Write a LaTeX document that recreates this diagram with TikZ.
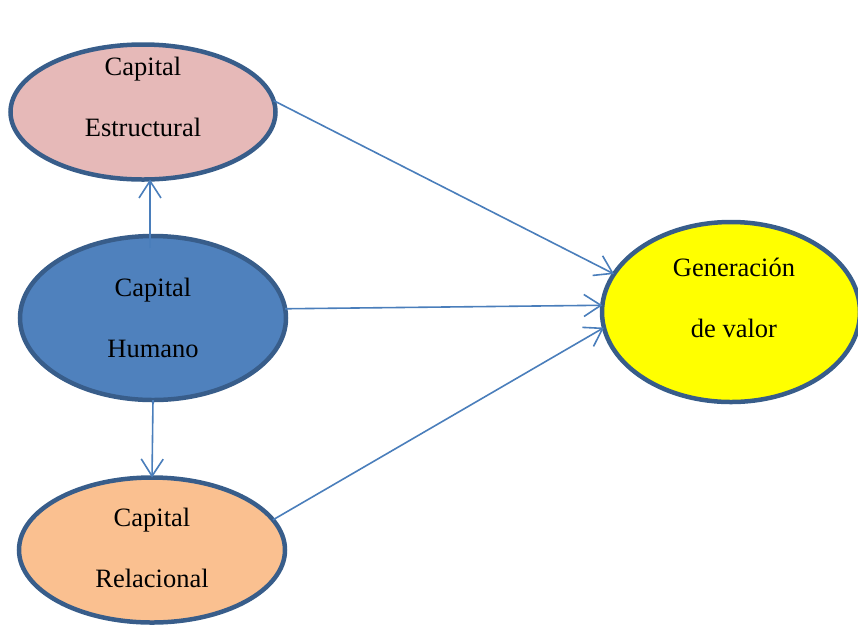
\documentclass[tikz,border=0pt]{standalone}
\usepackage{fontspec}
\setmainfont{Liberation Serif}
\usetikzlibrary{shapes.geometric,arrows.meta}
\definecolor{rim}{HTML}{385D8A}
\definecolor{link}{HTML}{4A7EBB}
\definecolor{pinkfill}{HTML}{E6B9B8}
\definecolor{bluefill}{HTML}{4F81BD}
\definecolor{peachfill}{HTML}{FAC090}
\definecolor{yellowfill}{HTML}{FFFF00}
\tikzset{
  blob/.style={ellipse, draw=rim, line width=4.5pt, inner sep=0pt, outer sep=0pt},
  caption/.style={align=center, font=\fontsize{26.5}{60.5}\selectfont, inner sep=0pt},
  link/.style={draw=link, line width=1.6pt, -{Straight Barb[length=17pt,width=22pt]}}
}
\begin{document}
\begin{tikzpicture}[x=1pt,y=-1pt]
  \clip (0,0) rectangle (858,625);
  % the four components
  \node[blob, fill=pinkfill, minimum width=265pt, minimum height=135pt] (est) at (143,112) {};
  \node[blob, fill=bluefill, minimum width=266pt, minimum height=164pt] (hum) at (153,318) {};
  \node[blob, fill=peachfill, minimum width=266pt, minimum height=145pt] (rel) at (152,550) {};
  \node[blob, fill=yellowfill, minimum width=258pt, minimum height=180pt] (gen) at (731,312) {};
  % labels
  \node[caption] (estT) at (143,97) {Capital\\Estructural};
  \node[caption] (humT) at (153,318) {Capital\\Humano};
  \node[caption] (relT) at (152,548) {Capital\\Relacional};
  \node[caption] (genT) at (734,298) {Generación\\de valor};
  % connectors
  \draw[link] ([xshift=-3pt,yshift=-12pt]hum.north) -- ([xshift=7pt]est.south);
  \draw[link] (hum.south) -- (rel.north);
  \draw[link] (est.5) -- (gen.162);
  \draw[link] (hum.4) -- (gen.177);
  \draw[link] (rel.14) -- (gen.187);
\end{tikzpicture}
\end{document}
